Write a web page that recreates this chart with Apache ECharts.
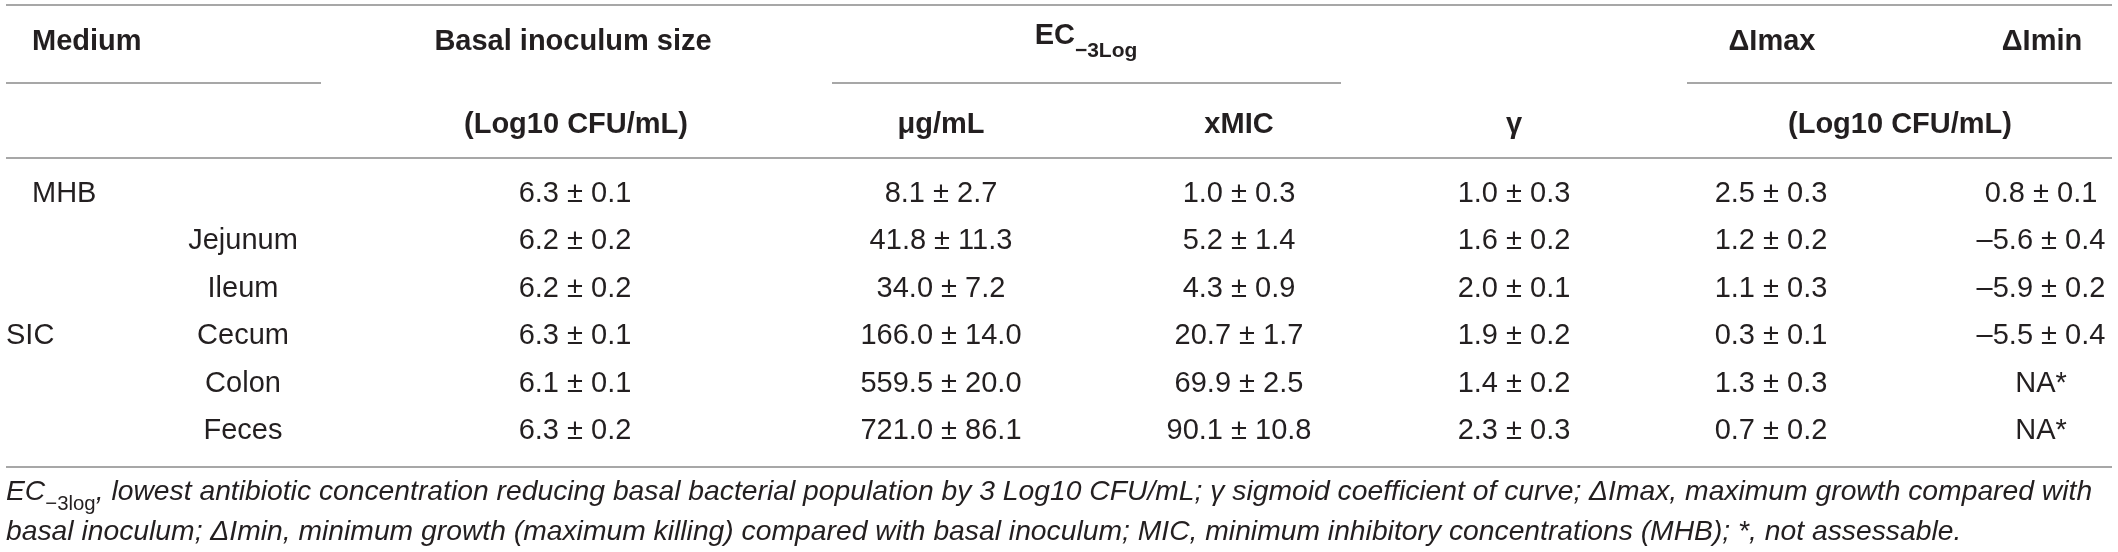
<!DOCTYPE html>
<html>
<head>
<meta charset="utf-8">
<script src="https://cdn.jsdelivr.net/npm/echarts@6/dist/echarts.min.js"></script>
<style>
html, body { margin: 0; padding: 0; background: #fff; }
#ec-table { width: 2118px; height: 552px; }
</style>
</head>
<body>
<div id="ec-table"></div>
<script>
// table values (mean, sd) per row
var rows = ['MHB', 'Jejunum', 'Ileum', 'Cecum', 'Colon', 'Feces'];
var sites = ['', 'Jejunum', 'Ileum', 'Cecum', 'Colon', 'Feces'];
var media = ['MHB', 'SIC'];
var mediaRows = [[0], [1, 2, 3, 4, 5]];
var basalMean = [6.3, 6.2, 6.2, 6.3, 6.1, 6.3];
var basalSd = [0.1, 0.2, 0.2, 0.1, 0.1, 0.2];
var ecUgMean = [8.1, 41.8, 34.0, 166.0, 559.5, 721.0];
var ecUgSd = [2.7, 11.3, 7.2, 14.0, 20.0, 86.1];
var ecMicMean = [1.0, 5.2, 4.3, 20.7, 69.9, 90.1];
var ecMicSd = [0.3, 1.4, 0.9, 1.7, 2.5, 10.8];
var gammaMean = [1.0, 1.6, 2.0, 1.9, 1.4, 2.3];
var gammaSd = [0.3, 0.2, 0.1, 0.2, 0.2, 0.3];
var dImaxMean = [2.5, 1.2, 1.1, 0.3, 1.3, 0.7];
var dImaxSd = [0.3, 0.2, 0.3, 0.1, 0.3, 0.2];
var dIminMean = [0.8, -5.6, -5.9, -5.5, null, null];
var dIminSd = [0.1, 0.4, 0.2, 0.4, null, null];

var headTop = ['Medium', 'Basal inoculum size', 'EC', 'ΔImax', 'ΔImin'];
var headSub = ['(Log10 CFU/mL)', 'μg/mL', 'xMIC', 'γ', '(Log10 CFU/mL)'];
var footLine1 = ', lowest antibiotic concentration reducing basal bacterial population by 3 Log10 CFU/mL; γ sigmoid coefficient of curve; ΔImax, maximum growth compared with';
var footLine2 = 'basal inoculum; ΔImin, minimum growth (maximum killing) compared with basal inoculum; MIC, minimum inhibitory concentrations (MHB); *, not assessable.';

// layout
var colX = [575, 941, 1239, 1514, 1771, 2041];
var siteX = 243;
var mediaX = [32, 6];
var FONT = '"Liberation Sans", Arial, Helvetica, sans-serif';
var INK = '#231f20';
var RULE = '#8a8a8a';

// fit the italic footnote to the width it has in the print
var ctx = document.createElement('canvas').getContext('2d');
ctx.font = 'italic 29px ' + FONT;
var footSize = 29 * 1956 / ctx.measureText(footLine2).width;

function fmt(m, s) {
  if (m == null) return 'NA*';
  return (m < 0 ? '–' : '') + Math.abs(m).toFixed(1) + ' ± ' + s.toFixed(1);
}

var columns = [
  [basalMean, basalSd], [ecUgMean, ecUgSd], [ecMicMean, ecMicSd],
  [gammaMean, gammaSd], [dImaxMean, dImaxSd], [dIminMean, dIminSd]
];

var cells = [];
media.forEach(function (m, i) {
  var rs = mediaRows[i];
  cells.push({ value: [mediaX[i], rs[Math.floor(rs.length / 2)]], text: m, align: 'left' });
});
sites.forEach(function (s, r) {
  if (s) cells.push({ value: [siteX, r], text: s, align: 'center' });
});
columns.forEach(function (col, c) {
  rows.forEach(function (name, r) {
    cells.push({ value: [colX[c], r], text: fmt(col[0][r], col[1][r]), align: 'center' });
  });
});

function hline(y, x1, x2) {
  return { type: 'line', silent: true, shape: { x1: x1, y1: y, x2: x2, y2: y },
    style: { stroke: RULE, lineWidth: 1.5 } };
}
function htext(str, x, y, align) {
  return { type: 'text', x: x, y: y, silent: true,
    style: { text: str, font: 'bold 29px ' + FONT, fill: INK, align: align || 'center', verticalAlign: 'middle' } };
}

var chart = echarts.init(document.getElementById('ec-table'), null, { renderer: 'canvas' });

var option = {
  animation: false,
  backgroundColor: '#fff',
  grid: { left: 0, right: 0, top: 170.3, bottom: 97.3 },
  xAxis: { type: 'value', min: 0, max: 2118, show: false },
  yAxis: { type: 'category', data: rows, inverse: true, show: false },
  series: [{
    type: 'custom',
    data: cells.map(function (d) { return d.value; }),
    renderItem: function (params, api) {
      var cell = cells[params.dataIndex];
      var p = api.coord([api.value(0), api.value(1)]);
      return {
        type: 'text', x: p[0], y: p[1],
        style: { text: cell.text, font: '29px ' + FONT, fill: INK, align: cell.align, verticalAlign: 'middle' }
      };
    }
  }],
  graphic: [
    hline(5, 6, 2112),
    hline(83, 6, 321), hline(83, 832, 1341), hline(83, 1687, 2112),
    hline(158, 6, 2112),
    hline(467, 6, 2112),
    htext(headTop[0], 32, 41.5, 'left'),
    htext(headTop[1], 573, 41.5),
    {
      type: 'text', x: 1086, y: 41.5, silent: true,
      style: {
        text: '{a|' + headTop[2] + '}{b|−3Log}', fill: INK, align: 'center', verticalAlign: 'middle',
        rich: {
          a: { fontFamily: FONT, fontWeight: 'bold', fontSize: 29, lineHeight: 40, verticalAlign: 'top', fill: INK },
          b: { fontFamily: FONT, fontWeight: 'bold', fontSize: 21, lineHeight: 22, verticalAlign: 'bottom', fill: INK }
        }
      }
    },
    htext(headTop[3], 1772, 41.5),
    htext(headTop[4], 2042, 41.5),
    htext(headSub[0], 576, 125),
    htext(headSub[1], 941, 125),
    htext(headSub[2], 1239, 125),
    htext(headSub[3], 1514, 125),
    htext(headSub[4], 1900, 125),
    {
      type: 'text', x: 6, y: 496, silent: true,
      style: {
        text: '{i|EC}{s|−3log}{i|' + footLine1 + '}',
        fill: INK, align: 'left', verticalAlign: 'middle',
        rich: {
          i: { fontFamily: FONT, fontStyle: 'italic', fontSize: footSize, lineHeight: 36, verticalAlign: 'top', fill: INK },
          s: { fontFamily: FONT, fontSize: footSize * 0.72, lineHeight: 24, verticalAlign: 'bottom', fill: INK }
        }
      }
    },
    {
      type: 'text', x: 6, y: 532, silent: true,
      style: {
        text: footLine2,
        font: 'italic ' + footSize + 'px ' + FONT, fill: INK, align: 'left', verticalAlign: 'middle'
      }
    }
  ]
};
chart.setOption(option);
</script>
</body>
</html>
